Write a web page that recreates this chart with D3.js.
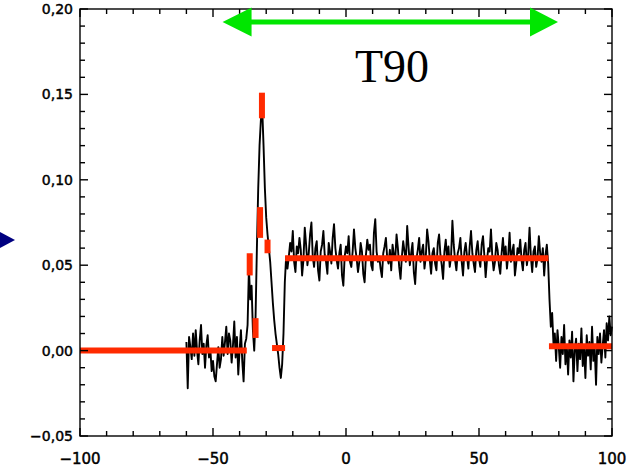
<!DOCTYPE html>
<html>
<head>
<meta charset="utf-8">
<script src="https://cdn.jsdelivr.net/npm/d3@7"></script>
<style>
  html, body { margin: 0; padding: 0; background: white; }
  svg { display: block; }
</style>
</head>
<body>
<div id="chart"></div>
<script>
// 광도 곡선 (light curve) + Bayesian block 재현

// 축 범위와 눈금
const xDomain = [-100, 100];
const yDomain = [-0.05, 0.20];
const xMajorTicks = [-100, -50, 0, 50, 100];
const yMajorTicks = [-0.05, 0.00, 0.05, 0.10, 0.15, 0.20];
const yTickLabels = ["\u22120,05", "0,00", "0,05", "0,10", "0,15", "0,20"];
const xTickLabels = ["\u2212100", "\u221250", "0", "50", "100"];

// 검은 곡선: 0.5초 간격, 값은 0.001 단위
const binStep = 0.5;
const preStart = -60;
const preBurst = [5, -22, 8, 2, -5, 10, -3, 12, 0, -8, 6, 15, -2, 4, -10, 3, 9, -4, 1, -12,
  -6, -15, -18, -8, 2, -10, -5, 8, -3, 5, 14, -2, 10, 6, -7, 3, 17, -4, 8, -14,
  0, 12, -6, -18, 4, 7];
const pulseStart = -37;
const pulse = [15, 48, 30, 38, 12, 0, 20, 60, 95, 120, 135, 142, 120, 95, 78, 68, 60, 52, 40, 28,
  18, 10, 4, -2, -10, -16, -8, 10, 40, 55];
const plateauStart = -22;
const plateau = [48, 55, 63, 58, 70, 52, 46, 61, 57, 66,
  59, 44, 53, 72, 62, 50, 57, 68, 75, 55,
  49, 60, 64, 47, 41, 58, 62, 70, 56, 52,
  45, 63, 58, 51, 66, 74, 60, 53, 48, 57,
  62, 44, 38, 55, 61, 57, 67, 52, 49, 58,
  71, 60, 54, 46, 52, 63, 58, 45, 40, 56,
  65, 59, 62, 50, 47, 69, 77, 58, 52, 55,
  48, 43, 57, 61, 66, 54, 51, 59, 47, 62,
  56, 53, 68, 60, 49, 42, 55, 64, 58, 52,
  73, 61, 50, 57, 63, 46, 39, 54, 59, 66,
  52, 58, 62, 48, 55, 71, 64, 53, 45, 57,
  60, 51, 47, 63, 68, 56, 50, 42, 58, 65,
  54, 61, 49, 55, 76, 62, 53, 47, 57, 60,
  66, 52, 44, 58, 63, 55, 48, 61, 70, 57,
  51, 46, 59, 64, 54, 49, 62, 67, 56, 43,
  53, 60, 58, 71, 55, 47, 52, 63, 59, 50,
  45, 57, 66, 54, 61, 48, 56, 69, 52, 58,
  62, 44, 51, 60, 57, 65, 53, 47, 59, 63,
  50, 56, 72, 55, 46, 58, 61, 49, 54, 67,
  57, 52, 60, 44, 56, 62, 51];
const tailStart = 76.5;
const tail = [30, 14, 22, 4, 10, -6, 12, 2, -10, 8,
  -2, 15, -8, 3, -14, 6, -4, 11, -18, 0,
  7, -12, 4, -5, 13, -9, 2, -16, 9, -3,
  5, -11, 14, -6, 1, -20, 8, -2, 10, -7,
  3, 12, -4, 16, 6, 20, 9, 14];

// 빨간 블록 (x0, x1, y0, y1)
const blockX0 = [-100, -36.2, -34.0, -32.3, -31.6, -29.5, -27.8, -22.9, 76.3];
const blockX1 = [-37.3, -36.2, -34.0, -32.3, -31.6, -29.5, -22.9, 76.1, 100];
const blockY0 = [0.0, 0.044, 0.0074, 0.066, 0.136, 0.057, 0.0015, 0.054, 0.0025];
const blockY1 = [0.0, 0.057, 0.019, 0.084, 0.151, 0.065, 0.0015, 0.054, 0.0025];

// T90 화살표
const t90Range = [-46.4, 79.7];
const t90Level = 0.1924;

// 크기
const width = 637, height = 469;
const plotL = 80, plotR = 612, plotT = 9, plotB = 436;

const x = d3.scaleLinear().domain(xDomain).range([plotL, plotR]);
const y = d3.scaleLinear().domain(yDomain).range([plotB, plotT]);

const svg = d3.select("#chart").append("svg")
  .attr("width", width)
  .attr("height", height)
  .style("background", "white");

// 데이터 합치기
function toPoints(start, vals) {
  return vals.map((v, i) => ({ t: start + i * binStep, v: v / 1000 }));
}
const curve = [].concat(
  toPoints(preStart, preBurst),
  toPoints(pulseStart, pulse),
  toPoints(plateauStart, plateau),
  toPoints(tailStart, tail)
);

svg.append("path")
  .datum(curve)
  .attr("fill", "none")
  .attr("stroke", "black")
  .attr("stroke-width", 1.9)
  .attr("stroke-linejoin", "round")
  .attr("d", d3.line().x(d => x(d.t)).y(d => y(d.v)));

// 빨간 블록
svg.append("g").selectAll("line")
  .data(blockX0.map((d, i) => i))
  .enter()
  .append("line")
  .attr("x1", i => x(blockX0[i]))
  .attr("x2", i => x(blockX1[i]))
  .attr("y1", i => y(blockY0[i]))
  .attr("y2", i => y(blockY1[i]))
  .attr("stroke", "#ff2a00")
  .attr("stroke-width", 6);

// 프레임 + 눈금 (안쪽 방향)
const axisG = svg.append("g").attr("stroke", "black").attr("stroke-width", 1.4);
axisG.append("rect")
  .attr("x", plotL).attr("y", plotT)
  .attr("width", plotR - plotL).attr("height", plotB - plotT)
  .attr("fill", "none");

const xTicksAll = d3.range(-100, 100.01, 10);
const yTicksAll = d3.range(-0.05, 0.2001, 0.01);
xTicksAll.forEach(t => {
  const len = Math.abs(t % 50) < 1e-6 ? 8 : 5;
  axisG.append("line").attr("x1", x(t)).attr("x2", x(t)).attr("y1", plotB).attr("y2", plotB - len);
  axisG.append("line").attr("x1", x(t)).attr("x2", x(t)).attr("y1", plotT).attr("y2", plotT + len);
});
yTicksAll.forEach(t => {
  const k = Math.round(t * 100);
  const len = k % 5 === 0 ? 8 : 5;
  axisG.append("line").attr("x1", plotL).attr("x2", plotL + len).attr("y1", y(t)).attr("y2", y(t));
  axisG.append("line").attr("x1", plotR).attr("x2", plotR - len).attr("y1", y(t)).attr("y2", y(t));
});

// 눈금 라벨
svg.append("g").selectAll("text")
  .data(yMajorTicks)
  .enter()
  .append("text")
  .attr("x", plotL - 7)
  .attr("y", d => y(d))
  .attr("dy", "0.36em")
  .attr("text-anchor", "end")
  .attr("stroke", "black")
  .attr("stroke-width", 0.45)
  .style("font-family", "DejaVu Sans, sans-serif")
  .style("font-size", "14px")
  .text((d, i) => yTickLabels[i]);

svg.append("g").selectAll("text")
  .data(xMajorTicks)
  .enter()
  .append("text")
  .attr("x", d => x(d))
  .attr("y", 464)
  .attr("text-anchor", "middle")
  .attr("stroke", "black")
  .attr("stroke-width", 0.45)
  .style("font-family", "DejaVu Sans, sans-serif")
  .style("font-size", "15px")
  .text((d, i) => xTickLabels[i]);

// T90 초록 화살표
const green = "#00e600";
const ay = y(t90Level);
const ax0 = x(t90Range[0]), ax1 = x(t90Range[1]);
svg.append("line")
  .attr("x1", ax0 + 20).attr("x2", ax1 - 20)
  .attr("y1", ay).attr("y2", ay)
  .attr("stroke", green).attr("stroke-width", 5);
svg.append("polygon")
  .attr("points", `${ax0},${ay} ${ax0 + 29},${ay - 14.5} ${ax0 + 29},${ay + 14.5}`)
  .attr("fill", green);
svg.append("polygon")
  .attr("points", `${ax1},${ay} ${ax1 - 28},${ay - 14.5} ${ax1 - 28},${ay + 14.5}`)
  .attr("fill", green);

svg.append("text")
  .attr("x", 392)
  .attr("y", 82)
  .attr("text-anchor", "middle")
  .style("font-family", "Liberation Serif, Times New Roman, serif")
  .style("font-size", "46px")
  .text("T90");

// 왼쪽의 파란 화살표 머리
svg.append("polygon")
  .attr("points", "0,232 15,240 0,248")
  .attr("fill", "#000080");
</script>
</body>
</html>
